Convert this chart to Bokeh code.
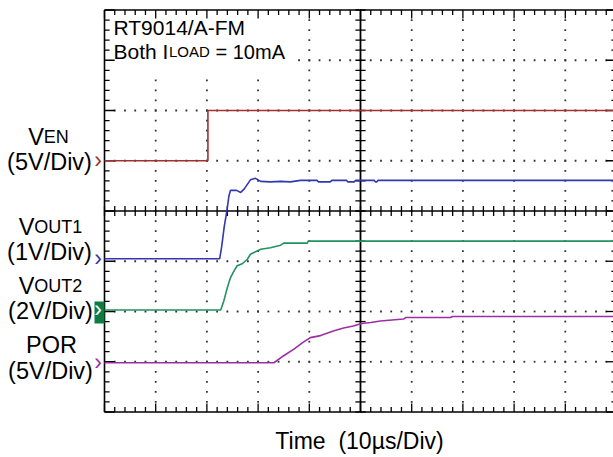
import numpy as np
from bokeh.plotting import figure
from bokeh.models import Range1d, Label
from bokeh.embed import file_html
from bokeh.resources import INLINE

# ---------------- data (time in µs, voltages in V) ----------------
t_en = [0, 20.2, 20.2, 100]
v_en = [0, 0, 5.0, 5.0]

t_out1 = [0, 22.5, 22.9, 23.4, 23.9, 24.3, 24.6, 25.8, 26.6, 27.3, 28.5, 29.5, 30.5,
          32.4, 34.4, 36.3, 38.3, 41.5, 41.8, 44.1, 44.4, 47.3, 47.5, 48.8, 49.0,
          52.7, 52.9, 53.2, 53.4, 100]
v_out1 = [0, 0, 0.25, 0.65, 0.95, 1.25, 1.36, 1.36, 1.32, 1.39, 1.57, 1.60, 1.54,
          1.53, 1.54, 1.53, 1.56, 1.56, 1.53, 1.53, 1.56, 1.56, 1.53, 1.53, 1.56,
          1.56, 1.53, 1.53, 1.56, 1.56]

t_out2 = [0, 22.7, 23.3, 24.0, 24.6, 25.3, 25.9, 26.9, 27.9, 28.5, 29.5, 30.5,
          32.4, 34.4, 35.0, 39.6, 39.8, 100]
v_out2 = [0, 0, 0.36, 0.90, 1.28, 1.56, 1.76, 1.84, 2.02, 2.22, 2.32, 2.42,
          2.48, 2.58, 2.66, 2.66, 2.74, 2.74]

t_por = [0, 33.1, 35.0, 37.0, 38.7, 40.2, 42.2, 44.7, 46.7, 48.6, 50.2, 52.0,
         53.9, 58.4, 58.8, 67.6, 68.0, 100]
v_por = [0, 0, 0.70, 1.35, 2.0, 2.5, 2.7, 3.15, 3.45, 3.65, 3.9, 4.0,
         4.15, 4.35, 4.5, 4.5, 4.6, 4.6]

# channel settings: (ground offset in divisions, volts per division)
time_per_div = 10.0
ch_en = (1.0, 5.0)
ch_out1 = (-0.95, 1.0)
ch_out2 = (-1.97, 2.0)
ch_por = (-3.02, 5.0)

c_en = "#A2302F"
c_out1 = "#3337B0"
c_out2 = "#22925F"
c_por = "#9A2FA3"
c_box = "#0E7B40"

FONT = "Liberation Sans"

W, H = 613, 457
X0_PX, YC_PX = 104.0, 210.5      # graticule left edge / centre line on the page
DIV_X, DIV_Y = 51.2, 50.25       # pixels per division
TXT_SHIFT = 6                    # text baseline correction (px)


def dx(px):
    return (px - X0_PX) / DIV_X


def dy(py):
    return (YC_PX - py) / DIV_Y


# ---------------- figure ----------------
p = figure(width=W, height=H, output_backend="svg", toolbar_location=None,
           x_range=Range1d(dx(0), dx(W)), y_range=Range1d(dy(H), dy(0)),
           x_axis_type=None, y_axis_type=None,
           min_border_left=0, min_border_right=0, min_border_top=0, min_border_bottom=0)
p.outline_line_color = None
p.background_fill_color = "white"
p.border_fill_color = "white"

# dotted graticule
gx, gy = [], []
for xv in [1, 2, 3, 4, 6, 7, 8, 9]:
    for yv in np.arange(-3.8, 3.81, 0.2):
        gx.append(xv); gy.append(yv)
for yv in [-3, -2, -1, 1, 2, 3]:
    for xv in np.arange(0.2, 9.95, 0.2):
        gx.append(xv); gy.append(yv)
p.scatter(gx, gy, marker="square", size=1.8, color="#333333", line_color=None)

# white box behind header text
p.quad(left=[0.03], right=[dx(294)], bottom=[dy(73)], top=[3.97],
       fill_color="white", line_color=None)

# border lines
p.line([0, 0], [-4, 4], line_color="black", line_width=1.6)
p.line([0, 10], [4, 4], line_color="black", line_width=1.6)
p.line([0, 10], [-4, -4], line_color="black", line_width=1.6)

# center cross
p.line([0, 10], [0, 0], line_color="black", line_width=1.6)
p.line([5, 5], [-4, 4], line_color="black", line_width=1.8)

x0s, x1s, y0s, y1s = [], [], [], []
for k in range(0, 51):
    xv = k * 0.2
    major = (k % 5 == 0)
    x0s.append(xv); x1s.append(xv); y0s.append(-0.1); y1s.append(0.1)
    L = 0.17 if major else 0.1
    x0s.append(xv); x1s.append(xv); y0s.append(4); y1s.append(4 - L)
    x0s.append(xv); x1s.append(xv); y0s.append(-4); y1s.append(-4 + L)
for k in range(0, 41):
    yv = -4 + k * 0.2
    major = (k % 5 == 0)
    x0s.append(4.9); x1s.append(5.1); y0s.append(yv); y1s.append(yv)
    L = 0.2 if major else 0.1
    x0s.append(0); x1s.append(L); y0s.append(yv); y1s.append(yv)
    x0s.append(10); x1s.append(10 - L); y0s.append(yv); y1s.append(yv)
p.segment(x0=x0s, y0=y0s, x1=x1s, y1=y1s, line_color="black", line_width=1.3)


# traces
def to_div(ts, vs, ch):
    off, scale = ch
    return [t / time_per_div for t in ts], [off + v / scale for v in vs]


for ts, vs, ch, col in [(t_en, v_en, ch_en, c_en), (t_out1, v_out1, ch_out1, c_out1),
                        (t_out2, v_out2, ch_out2, c_out2), (t_por, v_por, ch_por, c_por)]:
    xs, ys = to_div(ts, vs, ch)
    p.line(xs, ys, line_color=col, line_width=1.6)

# ground markers
p.quad(left=[dx(94)], right=[dx(104)], top=[dy(301)], bottom=[dy(323)],
       fill_color=c_box, line_color=None)
for ch, col in [(ch_en, c_en), (ch_out1, c_out1), (ch_out2, "white"), (ch_por, c_por)]:
    p.add_layout(Label(x=dx(97.5), y=ch[0], text="\u203a", text_color=col,
                       text_font=FONT, text_font_size="23px", y_offset=1,
                       text_align="center", text_baseline="middle"))


def lab(xpx, base_py, text, size, align="left", color="black"):
    p.add_layout(Label(x=dx(xpx), y=dy(base_py - TXT_SHIFT), text=text, text_font=FONT,
                       text_font_size=size, text_color=color, text_align=align,
                       text_baseline="alphabetic"))


# header text
lab(113, 33, "RT9014/A-FM", "21px")
lab(113, 57, "Both I", "21px")
lab(168.5, 57, "LOAD", "15px")
lab(215, 57, "= 10mA", "20px")

# left channel labels
BIG, SUB = 23.5, 18


def vsub(center_px, base_py, sub):
    wV = 0.667 * BIG
    wS = sum({"E": 0.667, "N": 0.722, "O": 0.778, "U": 0.722, "T": 0.611,
              "1": 0.556, "2": 0.556}[c] for c in sub) * SUB
    start = center_px - (wV + wS) / 2
    lab(start, base_py, "V", f"{BIG}px")
    lab(start + wV, base_py, sub, f"{SUB}px")


vsub(48, 142, "EN")
lab(49, 167, "(5V/Div)", f"{BIG}px", "center")
vsub(50, 232, "OUT1")
lab(49, 257, "(1V/Div)", f"{BIG}px", "center")
vsub(50, 291, "OUT2")
lab(50, 316, "(2V/Div)", f"{BIG}px", "center")
lab(51, 350, "POR", f"{BIG}px", "center")
lab(50, 376, "(5V/Div)", f"{BIG}px", "center")

# time label
lab(359, 446, "Time\u00a0 (10\u00b5s/Div)", "23px", "center")

open("out.html", "w").write(file_html(p, INLINE))
